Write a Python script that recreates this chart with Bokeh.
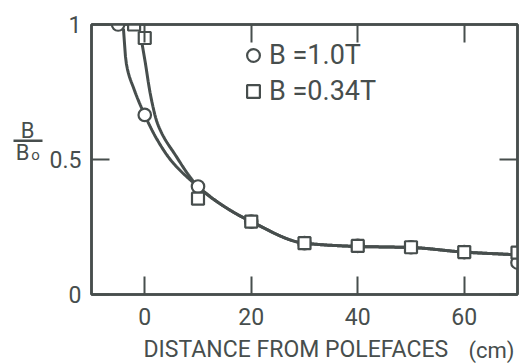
import numpy as np
from bokeh.plotting import figure
from bokeh.layouts import column, row
from bokeh.models import Range1d, LinearAxis, FixedTicker, Legend, LegendItem
from bokeh.core.properties import value
from bokeh.embed import file_html
from bokeh.resources import INLINE

# ---- data ----
x_ticks = [0, 20, 40, 60]
x_tick_labels = ["0", "20", "40", "60"]
y_ticks = [0, 0.5, 1]
y_tick_labels = ["0", "0.5", "1"]

dist_10T = [-5, 0, 10, 20, 30, 40, 50, 60, 70]
ratio_10T = [1.0, 0.665, 0.40, 0.27, 0.19, 0.18, 0.175, 0.157, 0.118]

dist_034T = [-2, 0, 10, 20, 30, 40, 50, 60, 70]
ratio_034T = [1.0, 0.95, 0.355, 0.27, 0.19, 0.18, 0.175, 0.157, 0.155]

# hand-drawn fitted curves (knots)
fit_10T_x = [-4.0, -3.5, -2.0, 0.0, 2.0, 5.0, 10, 15, 20, 30, 40, 50, 60, 70]
fit_10T_y = [0.985, 0.86, 0.76, 0.665, 0.585, 0.495, 0.40, 0.325, 0.27, 0.19, 0.178, 0.174, 0.157, 0.147]
fit_034T_x = [-0.6, 0.05, 1.1, 2.4, 5.8, 10, 15, 20, 30, 40, 50, 60, 70]
fit_034T_y = [0.94, 0.865, 0.737, 0.633, 0.515, 0.40, 0.325, 0.27, 0.19, 0.178, 0.174, 0.157, 0.147]

legend_labels = ["B =1.0T", "B =0.34T"]
x_title = "DISTANCE FROM POLEFACES"
x_unit = "(cm)"
y_num, y_den, y_den_sub = "B", "B", "o"

INK = "#474e4d"
FONT = "Roboto"

LEFT_W = 44


def pchip(xk, yk, n=400):
    xk = np.asarray(xk, float)
    yk = np.asarray(yk, float)
    h = np.diff(xk)
    d = np.diff(yk) / h
    m = np.zeros_like(yk)
    for i in range(1, len(xk) - 1):
        if d[i - 1] * d[i] > 0:
            w1 = 2 * h[i] + h[i - 1]
            w2 = h[i] + 2 * h[i - 1]
            m[i] = (w1 + w2) / (w1 / d[i - 1] + w2 / d[i])
    m[0] = d[0]
    m[-1] = d[-1]
    xs = np.linspace(xk[0], xk[-1], n)
    idx = np.clip(np.searchsorted(xk, xs) - 1, 0, len(h) - 1)
    t = (xs - xk[idx]) / h[idx]
    h00 = 2 * t**3 - 3 * t**2 + 1
    h10 = t**3 - 2 * t**2 + t
    h01 = -2 * t**3 + 3 * t**2
    h11 = t**3 - t**2
    ys = h00 * yk[idx] + h10 * h[idx] * m[idx] + h01 * yk[idx + 1] + h11 * h[idx] * m[idx + 1]
    return xs, ys


# ---------------- main plot ----------------
p = figure(width=525 - LEFT_W, height=333, x_range=Range1d(-10, 70), y_range=Range1d(0, 1),
           output_backend="svg", toolbar_location=None,
           min_border_left=91 - LEFT_W, min_border_right=8, min_border_top=24,
           min_border_bottom=39)
p.grid.visible = False
p.background_fill_color = "white"
p.border_fill_color = "white"
p.outline_line_color = INK
p.outline_line_width = 2.5


def style_axis(ax, ticks, labels, show_labels, standoff):
    ax.ticker = FixedTicker(ticks=ticks)
    ax.major_label_overrides = {t: l for t, l in zip(ticks, labels)}
    ax.major_tick_in = 18
    ax.major_tick_out = 0
    ax.minor_tick_in = 0
    ax.minor_tick_out = 0
    ax.major_tick_line_color = INK
    ax.major_tick_line_width = 2
    ax.axis_line_color = INK
    ax.axis_line_width = 2.5
    ax.axis_label_standoff = 0
    ax.major_label_text_font = FONT
    ax.major_label_text_font_size = "23px"
    ax.major_label_standoff = standoff
    ax.major_label_text_color = INK if show_labels else None


style_axis(p.xaxis[0], x_ticks, x_tick_labels, True, 13)
style_axis(p.yaxis[0], y_ticks, y_tick_labels, True, 10)
top = LinearAxis()
style_axis(top, x_ticks, x_tick_labels, False, 0)
p.add_layout(top, "above")
right = LinearAxis()
style_axis(right, y_ticks, y_tick_labels, False, 0)
p.add_layout(right, "right")

cx, cy = pchip(fit_10T_x, fit_10T_y)
p.line(cx, cy, line_color=INK, line_width=3)
sx, sy = pchip(fit_034T_x, fit_034T_y)
p.line(sx, sy, line_color=INK, line_width=3)

r_c = p.scatter(dist_10T, ratio_10T, marker="circle", size=12.5, fill_color="white",
                line_color=INK, line_width=2.2)
r_s = p.scatter(dist_034T, ratio_034T, marker="square", size=12, fill_color="white",
                line_color=INK, line_width=2.2)

legend = Legend(items=[LegendItem(label=legend_labels[0], renderers=[r_c]),
                       LegendItem(label=legend_labels[1], renderers=[r_s])],
                location=(146, 187), glyph_width=32, glyph_height=32, spacing=4,
                padding=0, margin=0, label_standoff=0, border_line_color=None,
                background_fill_alpha=0, label_text_font=FONT,
                label_text_font_size="27px", label_text_color=INK,
                label_text_baseline="middle")
p.add_layout(legend)


def strip(w, h, x_left, y_top):
    f = figure(width=w, height=h, x_range=Range1d(x_left, x_left + w),
               y_range=Range1d(y_top + h, y_top),
               output_backend="svg", toolbar_location=None,
               x_axis_location=None, y_axis_location=None,
               min_border=0, min_border_left=0, min_border_right=0,
               min_border_top=0, min_border_bottom=0)
    f.grid.visible = False
    f.outline_line_color = None
    f.background_fill_color = "white"
    f.border_fill_color = "white"
    return f


# ---------------- left strip: y-axis label B / Bo ----------------
left = strip(LEFT_W, 333, 0, 0)
left.text(x=[27], y=[131], text=[y_num], text_font=value(FONT), text_font_size="22px",
          text_color=INK, text_align="center", text_baseline="middle")
left.segment(x0=[13], y0=[143.5], x1=[42], y1=[143.5], line_color=INK, line_width=2.5)
left.text(x=[22], y=[158], text=[y_den], text_font=value(FONT), text_font_size="22px",
          text_color=INK, text_align="center", text_baseline="middle")
left.text(x=[35], y=[161], text=[y_den_sub], text_font=value(FONT), text_font_size="15px",
          text_color=INK, text_align="center", text_baseline="middle")

# ---------------- bottom strip: x-axis title ----------------
bottom = strip(525, 30, 0, 333)
bottom.text(x=[143], y=[349], text=[x_title], text_font=value(FONT), text_font_size="23px",
            text_color=INK, text_align="left", text_baseline="middle")
bottom.text(x=[514], y=[350], text=[x_unit], text_font=value(FONT), text_font_size="22px",
            text_color=INK, text_align="right", text_baseline="middle")

layout = column(row(left, p, spacing=0), bottom, spacing=0)

open("out.html", "w").write(file_html(layout, INLINE))
